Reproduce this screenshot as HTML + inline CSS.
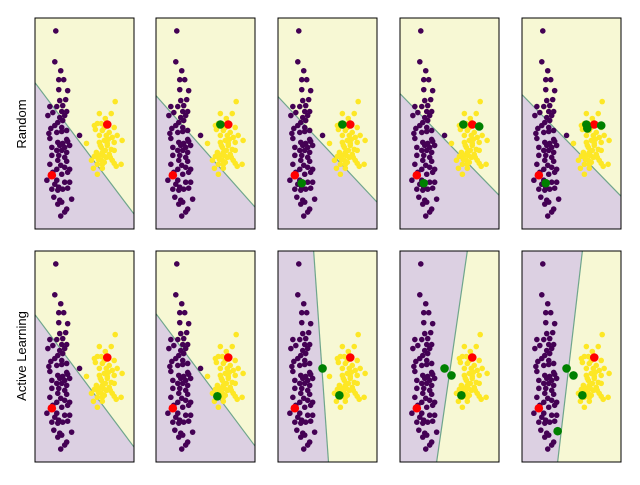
<!DOCTYPE html>
<html><head><meta charset="utf-8"><style>
body{margin:0;background:#fff;width:640px;height:480px;overflow:hidden;font-family:"Liberation Sans",sans-serif}
</style></head><body>
<svg id="c" width="640" height="480" xmlns="http://www.w3.org/2000/svg">
<text x="26" y="124" font-size="13" text-anchor="middle" transform="rotate(-90 26 124)">Random</text>
<text x="26" y="356" font-size="13" text-anchor="middle" transform="rotate(-90 26 356)">Active Learning</text>
</svg>
<script>
const purpleX=[21,20,26,24,29,24,33,25,31,15,22,28,27,32,13,18,25,30,23,28,20,16,27,22,27,32,45,14,32,15,23,28,33,25,30,17,22,27,32,35,17,24,30,23,32,15,26,30,35,22,18,27,33,12,22,30,35,20,24,17,28,33,23,19,37,25,23,27,32,30,26];
const purpleY=[13,44,53,62,62,72,73,83,82,89,89,88,94,94,98,95,100,98,105,103,108,111,110,115,114,113,118,116,122,121,125,126,124,128,130,130,133,133,135,128,138,138,140,143,144,147,148,150,152,152,155,157,155,163,163,165,165,167,170,172,172,171,173,180,182,183,187,185,192,195,199];
const yellowX=[81,77,65,71,60,63,67,61,80,68,75,65,72,78,83,88,52,65,70,80,67,73,77,62,68,80,65,72,60,78,57,67,80,87,63,68,59,68,82,63,70,74,66,71,69,75,64,70,76,73];
const yellowY=[84,96,96,101,108,106,106,112,110,113,115,118,118,120,118,123,126,125,123,125,130,128,132,135,135,133,138,140,139,143,143,143,146,147,147,147,151,151,149,157,110,122,128,133,138,137,142,145,140,126];
const redX=[73,17];
const redY=[107,158];
// per panel: boundary endpoints (a: start, b: end) and queried green points
const boundA=[[0,65],[0,78],[0,79],[0,76],[0,77],[0,64],[0,63],[36,0],[68,0],[61,0]];
const boundB=[[100,197],[100,190],[100,185],[100,178],[100,179],[100,197],[100,196],[51,212],[37,212],[36,212]];
const greenX=[[],[65],[65,24],[64,80,24],[65,66,80,24],[],[62],[45,62],[45,52,62],[45,52,61,36]];
const greenY=[[],[107],[107,166],[107,109,166],[107,111,108,166],[],[146],[118,145],[118,125,145],[118,125,145,181]];
const colX=[35,156,278,400,522], rowY=[18,251], PW=99, PH=211;
const NS="http://www.w3.org/2000/svg", svg=document.getElementById('c');
function mk(t,a){const e=document.createElementNS(NS,t);for(const k in a)e.setAttribute(k,a[k]);return e;}
for(let p=0;p<10;p++){
  const ox=colX[p%5], oy=rowY[Math.floor(p/5)];
  const sx=v=>ox+v*PW/100, sy=v=>oy+v*PH/212;
  const g=mk('g',{});
  
  
  svg.appendChild(g);
  const bg=mk('rect',{x:ox,y:oy,width:PW,height:PH,fill:'#f7f8d4'});
  
  
  g.appendChild(bg);
  const A=boundA[p],B=boundB[p];
  let pts;
  if(A[0]===0){pts=[[sx(0),sy(A[1])],[sx(B[0]),sy(B[1])],[sx(100),sy(212)],[sx(0),sy(212)]];}
  else{pts=[[sx(0),sy(0)],[sx(A[0]),sy(A[1])],[sx(B[0]),sy(B[1])],[sx(0),sy(212)]];}
  const poly=mk('polygon',{points:pts.map(q=>q.join(',')).join(' '),fill:'#dcd0e2'});
  
  
  g.appendChild(poly);
  const ln=mk('line',{x1:sx(A[0]),y1:sy(A[1]),x2:sx(B[0]),y2:sy(B[1]),stroke:'#6fa58c','stroke-width':1.2});
  
  
  g.appendChild(ln);
  for(let i=0;i<purpleX.length;i++){const c=mk('circle',{cx:sx(purpleX[i]),cy:sy(purpleY[i]),r:2.8,fill:'#440154'});
    
    
    g.appendChild(c);}
  for(let i=0;i<yellowX.length;i++){const c=mk('circle',{cx:sx(yellowX[i]),cy:sy(yellowY[i]),r:2.8,fill:'#fde725'});
    
    
    g.appendChild(c);}
  for(let i=0;i<redX.length;i++){const c=mk('circle',{cx:sx(redX[i]),cy:sy(redY[i]),r:4.3,fill:'#ff0000'});
    
    
    g.appendChild(c);}
  for(let i=0;i<greenX[p].length;i++){const c=mk('circle',{cx:sx(greenX[p][i]),cy:sy(greenY[p][i]),r:4.3,fill:'#008000'});
    
    
    g.appendChild(c);}
  const fr=mk('rect',{x:ox,y:oy,width:PW,height:PH,fill:'none',stroke:'#000','stroke-width':1});
  
  
  g.appendChild(fr);
}
</script>
</body></html>
